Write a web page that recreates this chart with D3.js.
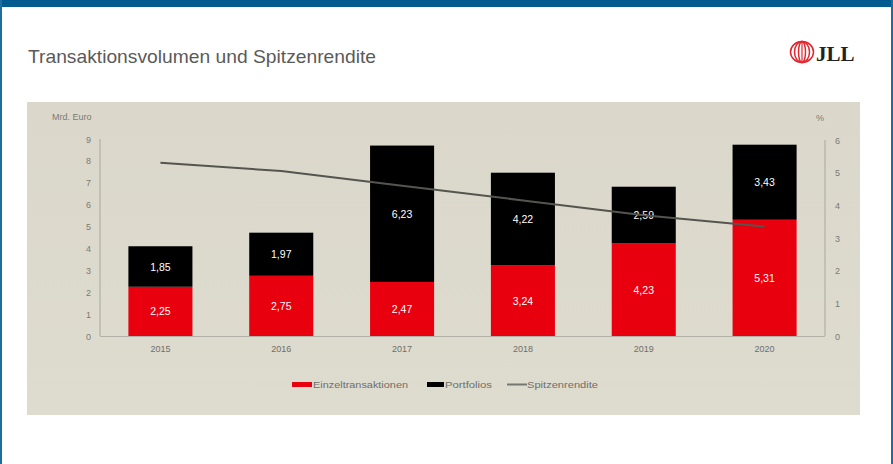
<!DOCTYPE html>
<html>
<head>
<meta charset="utf-8">
<script src="https://cdn.jsdelivr.net/npm/d3@7"></script>
<style>
  html, body { margin: 0; padding: 0; background: #fff; }
  svg { display: block; }
</style>
</head>
<body>
<svg id="chart" width="893" height="464"></svg>
<script>
const years = ["2015", "2016", "2017", "2018", "2019", "2020"];
const einzel = [2.25, 2.75, 2.47, 3.24, 4.23, 5.31];
const portfolios = [1.85, 1.97, 6.23, 4.22, 2.59, 3.43];
const rendite = [5.3, 5.05, 4.6, 4.15, 3.7, 3.35];
const leftTicks = [0, 1, 2, 3, 4, 5, 6, 7, 8, 9];
const rightTicks = [0, 1, 2, 3, 4, 5, 6];
const legendLabels = ["Einzeltransaktionen", "Portfolios", "Spitzenrendite"];

const svg = d3.select("#chart");
const font = "'Liberation Sans', Arial, sans-serif";

// Frame
svg.append("rect").attr("x", 0).attr("y", 0).attr("width", 893).attr("height", 464).attr("fill", "#fff");
svg.append("rect").attr("x", 0).attr("y", 0).attr("width", 893).attr("height", 7).attr("fill", "#005b8e");
svg.append("rect").attr("x", 0).attr("y", 0).attr("width", 2).attr("height", 464).attr("fill", "#1f6d9c");
svg.append("rect").attr("x", 891).attr("y", 0).attr("width", 2).attr("height", 464).attr("fill", "#1f6d9c");

// Title
svg.append("text").attr("x", 28).attr("y", 63)
  .attr("font-family", font).attr("font-size", 19).attr("fill", "#5a5a5a")
  .attr("textLength", 348).attr("lengthAdjust", "spacingAndGlyphs")
  .text("Transaktionsvolumen und Spitzenrendite");

// Logo
const logo = svg.append("g");
[11.5, 7.5, 3.5].forEach(rx => {
  logo.append("ellipse").attr("cx", 802).attr("cy", 52).attr("rx", rx).attr("ry", 10.5)
    .attr("fill", "none").attr("stroke", "#e3262d").attr("stroke-width", 1.5);
});
logo.append("line").attr("x1", 802).attr("x2", 802).attr("y1", 41.5).attr("y2", 62.5)
  .attr("stroke", "#e3262d").attr("stroke-width", 1.2);
logo.append("text").attr("x", 816).attr("y", 61)
  .attr("font-family", "'Liberation Serif', 'DejaVu Serif', serif").attr("font-weight", "bold")
  .attr("font-size", 21).attr("fill", "#222").text("JLL");

// Panel
const defs = svg.append("defs");
const grad = defs.append("linearGradient").attr("id", "bg").attr("x1", 0).attr("y1", 0).attr("x2", 0).attr("y2", 1);
grad.append("stop").attr("offset", "0%").attr("stop-color", "#dbd8cb");
grad.append("stop").attr("offset", "100%").attr("stop-color", "#dedbcf");
svg.append("rect").attr("x", 27).attr("y", 102).attr("width", 833).attr("height", 313).attr("fill", "url(#bg)");

// Scales
const x = d3.scaleBand().domain(years).range([100, 825]).paddingInner(0.47).paddingOuter(0.235);
const yL = d3.scaleLinear().domain([0, 9]).range([336, 139]);
const yR = d3.scaleLinear().domain([0, 6]).range([336, 140]);

// Axes lines
svg.append("line").attr("x1", 100).attr("x2", 100).attr("y1", yL(9)).attr("y2", yL(0)).attr("stroke", "#a9a79e").attr("stroke-width", 1);
svg.append("line").attr("x1", 825).attr("x2", 825).attr("y1", yR(6)).attr("y2", yR(0)).attr("stroke", "#a9a79e").attr("stroke-width", 1);
svg.append("line").attr("x1", 100).attr("x2", 825).attr("y1", 336.5).attr("y2", 336.5).attr("stroke", "#b3b1a8").attr("stroke-width", 1);

// Tick labels
svg.selectAll(".lt").data(leftTicks).enter().append("text")
  .attr("x", 91).attr("y", d => yL(d) + 3.5).attr("text-anchor", "end")
  .attr("font-family", font).attr("font-size", 9).attr("fill", "#7a7a74").text(d => d);
svg.selectAll(".rt").data(rightTicks).enter().append("text")
  .attr("x", 835).attr("y", d => yR(d) + 3.5).attr("text-anchor", "start")
  .attr("font-family", font).attr("font-size", 9).attr("fill", "#7a7a74").text(d => d);
svg.append("text").attr("x", 52).attr("y", 120).attr("font-family", font).attr("font-size", 9)
  .attr("fill", "#7a7a74").text("Mrd. Euro");
svg.append("text").attr("x", 816).attr("y", 121).attr("font-family", font).attr("font-size", 9)
  .attr("fill", "#7a7a74").text("%");

// Bars
const red = "#e8000f";
const g = svg.append("g");
years.forEach((yr, i) => {
  const x0 = x(yr), w = x.bandwidth();
  const e = einzel[i], p = portfolios[i];
  g.append("rect").attr("x", x0).attr("width", w).attr("y", yL(e)).attr("height", yL(0) - yL(e)).attr("fill", red);
  g.append("rect").attr("x", x0).attr("width", w).attr("y", yL(e + p)).attr("height", yL(e) - yL(e + p)).attr("fill", "#000");
  g.append("text").attr("x", x0 + w / 2).attr("y", (yL(0) + yL(e)) / 2 + 4).attr("text-anchor", "middle")
    .attr("font-family", font).attr("font-size", 10.5).attr("fill", "#fff").text(e.toFixed(2).replace(".", ","));
  g.append("text").attr("x", x0 + w / 2).attr("y", (yL(e) + yL(e + p)) / 2 + 4).attr("text-anchor", "middle")
    .attr("font-family", font).attr("font-size", 10.5).attr("fill", "#fff").text(p.toFixed(2).replace(".", ","));
});

// Line
const line = d3.line().x((d, i) => x(years[i]) + x.bandwidth() / 2).y(d => yR(d));
svg.append("path").datum(rendite).attr("d", line).attr("fill", "none").attr("stroke", "#555550").attr("stroke-width", 2);

// X labels
svg.selectAll(".xl").data(years).enter().append("text")
  .attr("x", d => x(d) + x.bandwidth() / 2).attr("y", 352).attr("text-anchor", "middle")
  .attr("font-family", font).attr("font-size", 9).attr("fill", "#6f6f6a").text(d => d);

// Legend
const lg = svg.append("g").attr("font-family", font).attr("font-size", 9).attr("fill", "#6f6f6a");
lg.append("rect").attr("x", 292).attr("y", 382).attr("width", 20).attr("height", 5).attr("fill", red);
lg.append("text").attr("x", 313).attr("y", 388).attr("textLength", 95).attr("lengthAdjust", "spacingAndGlyphs").text(legendLabels[0]);
lg.append("rect").attr("x", 427).attr("y", 382).attr("width", 17).attr("height", 5).attr("fill", "#000");
lg.append("text").attr("x", 445).attr("y", 388).attr("textLength", 47).attr("lengthAdjust", "spacingAndGlyphs").text(legendLabels[1]);
lg.append("line").attr("x1", 507).attr("x2", 527).attr("y1", 384.5).attr("y2", 384.5).attr("stroke", "#777772").attr("stroke-width", 2);
lg.append("text").attr("x", 527).attr("y", 388).attr("textLength", 71).attr("lengthAdjust", "spacingAndGlyphs").text(legendLabels[2]);
</script>
</body>
</html>
